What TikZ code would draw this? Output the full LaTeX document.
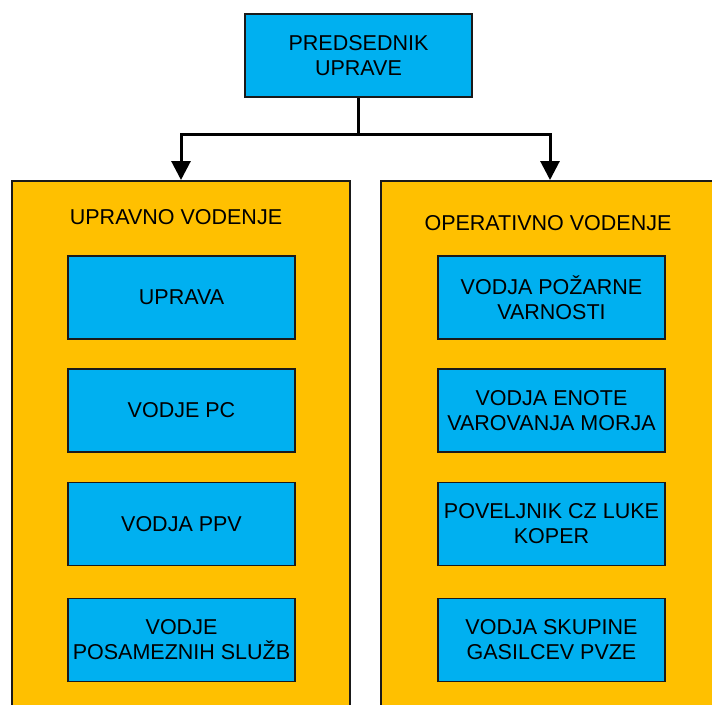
\documentclass[tikz,border=0pt]{standalone}
\usepackage{fontspec}
\setmainfont{Liberation Sans}
\usetikzlibrary{arrows.meta}
\definecolor{boxblue}{HTML}{00B0F0}
\definecolor{boxorange}{HTML}{FFC000}
\definecolor{edge}{HTML}{1A1A1A}
\begin{document}
\begin{tikzpicture}[x=1pt,y=1pt,
  bluebox/.style={draw=edge,line width=1.5pt,fill=boxblue,minimum width=227pt,minimum height=83pt,
    align=center,font=\fontsize{21.5}{25}\selectfont,inner sep=0pt},
  groupbox/.style={draw=edge,line width=1.5pt,fill=boxorange,minimum width=338pt,minimum height=540pt,inner sep=0pt},
  grouplabel/.style={font=\fontsize{21.5}{25}\selectfont,inner sep=0pt},
  conn/.style={line width=3pt,draw=black,-{Triangle[length=19pt,width=19pt]}}]
\useasboundingbox (0,0) rectangle (712,-704);
\clip (0,0) rectangle (712,-704);
\fill[white] (0,0) rectangle (712,-704);
\node[groupbox,anchor=north] (gl) at (181,-180) {};
\node[groupbox,anchor=north] (gr) at (550,-180) {};
\node[grouplabel] (ll) at (176,-217) {UPRAVNO VODENJE};
\node[grouplabel] (lr) at (548,-223) {OPERATIVNO VODENJE};
\node[bluebox] (top) at (358.5,-55.5) {PREDSEDNIK\\UPRAVE};
\node[bluebox] (l1) at (181.5,-297.5) {UPRAVA};
\node[bluebox] (l2) at (181.5,-410.5) {VODJE PC};
\node[bluebox] (l3) at (181.5,-524) {VODJA PPV};
\node[bluebox] (l4) at (181.5,-640) {VODJE\\POSAMEZNIH SLUŽB};
\node[bluebox] (r1) at (551.5,-297.5) {VODJA POŽARNE\\VARNOSTI};
\node[bluebox] (r2) at (551.5,-410.5) {VODJA ENOTE\\VAROVANJA MORJA};
\node[bluebox] (r3) at (551.5,-524) {POVELJNIK CZ LUKE\\KOPER};
\node[bluebox] (r4) at (551.5,-640) {VODJA SKUPINE\\GASILCEV PVZE};
\coordinate (split) at (358.5,-134);
\draw[line width=3pt] (top.south) -- (split);
\draw[conn] (split) -| (gl.north);
\draw[conn] (split) -| (gr.north);
\end{tikzpicture}
\end{document}
